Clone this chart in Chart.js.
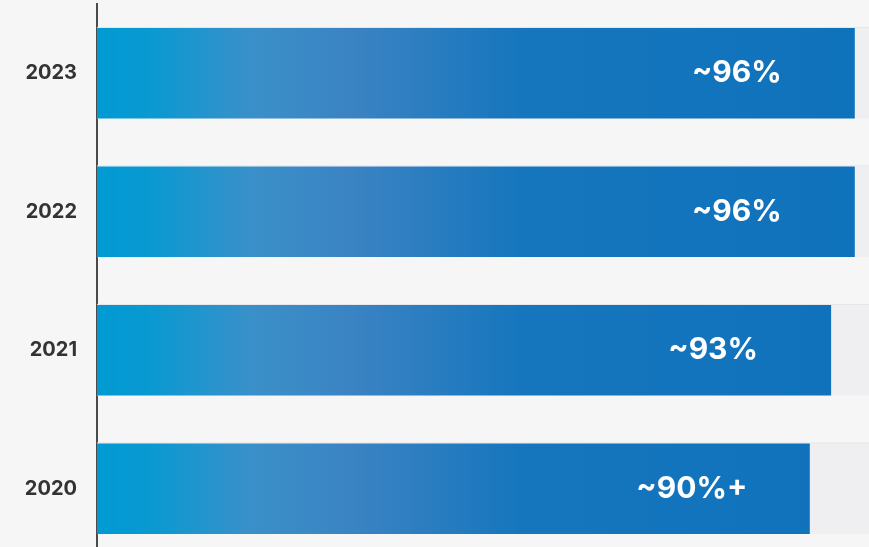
<!DOCTYPE html>
<html>
<head>
<meta charset="utf-8">
<script src="https://cdn.jsdelivr.net/npm/chart.js@4"></script>
<style>
  html, body { margin: 0; padding: 0; background: #f6f6f6; overflow: hidden; }
  #wrap { position: relative; width: 869px; height: 558px; }
</style>
</head>
<body>
<div id="wrap"><canvas id="chart"></canvas></div>
<script>
// adoption by year
const years = ['2023', '2022', '2021', '2020'];
const shares = [96, 96, 93, 90.3];
const shareLabels = ['~96%', '~96%', '~93%', '~90%+'];

// horizontal gradient across the plot area
function barGradient(ctx, area) {
    const g = ctx.createLinearGradient(area.left, 0, area.right, 0);
    g.addColorStop(0, '#009ad3');
    g.addColorStop(0.07, '#0a99d1');
    g.addColorStop(0.2, '#3a90c9');
    g.addColorStop(0.33, '#3b83c3');
    g.addColorStop(0.55, '#1676bd');
    g.addColorStop(1, '#0e72bb');
    return g;
}

// grey track behind each bar, running to the right edge
const trackPlugin = {
    id: 'track',
    beforeDatasetsDraw(chart) {
        const { ctx, chartArea } = chart;
        const meta = chart.getDatasetMeta(0);
        const w = chartArea.right - chartArea.left;
        ctx.save();
        meta.data.forEach(bar => {
            const top = bar.y - bar.height / 2;
            ctx.fillStyle = '#efeff2';
            ctx.fillRect(chartArea.left, top, w, bar.height);
            ctx.fillStyle = '#e6e6ea';
            ctx.fillRect(chartArea.left, top - 1, w, 1);
        });
        ctx.restore();
    }
};

// value text inside the bar, near its end
const valuePlugin = {
    id: 'values',
    afterDatasetsDraw(chart) {
        const { ctx } = chart;
        const meta = chart.getDatasetMeta(0);
        ctx.save();
        ctx.fillStyle = '#ffffff';
        ctx.font = 'bold 30px Inter, "DejaVu Sans", sans-serif';
        ctx.textAlign = 'center';
        ctx.textBaseline = 'middle';
        meta.data.forEach((bar, i) => {
            ctx.fillText(shareLabels[i], bar.x - 118, bar.y);
        });
        ctx.restore();
    }
};

new Chart(document.getElementById('chart'), {
    type: 'bar',
    data: {
        labels: years,
        datasets: [{
            data: shares,
            backgroundColor: c => {
                const area = c.chart.chartArea;
                if (!area) return '#1676bd';
                return barGradient(c.chart.ctx, area);
            },
            borderWidth: 0,
            borderSkipped: false,
            barPercentage: 0.655,
            categoryPercentage: 1
        }]
    },
    options: {
        indexAxis: 'y',
        responsive: true,
        maintainAspectRatio: false,
        animation: false,
        layout: { padding: { top: 4, right: 0, bottom: 0, left: 0 } },
        plugins: {
            legend: { display: false },
            tooltip: { enabled: false }
        },
        scales: {
            x: {
                display: false,
                min: 0,
                max: 97.8
            },
            y: {
                afterFit(scale) {
                    scale.width = 97;
                    scale.paddingTop = 0;
                    scale.paddingBottom = 0;
                },
                grid: { display: false, drawTicks: false },
                border: { display: true, color: '#4a4a4a', width: 2 },
                ticks: {
                    padding: 20,
                    color: '#333333',
                    font: { family: 'Inter', size: 20, weight: 'bold' }
                }
            }
        }
    },
    plugins: [trackPlugin, valuePlugin]
});
</script>
</body>
</html>
